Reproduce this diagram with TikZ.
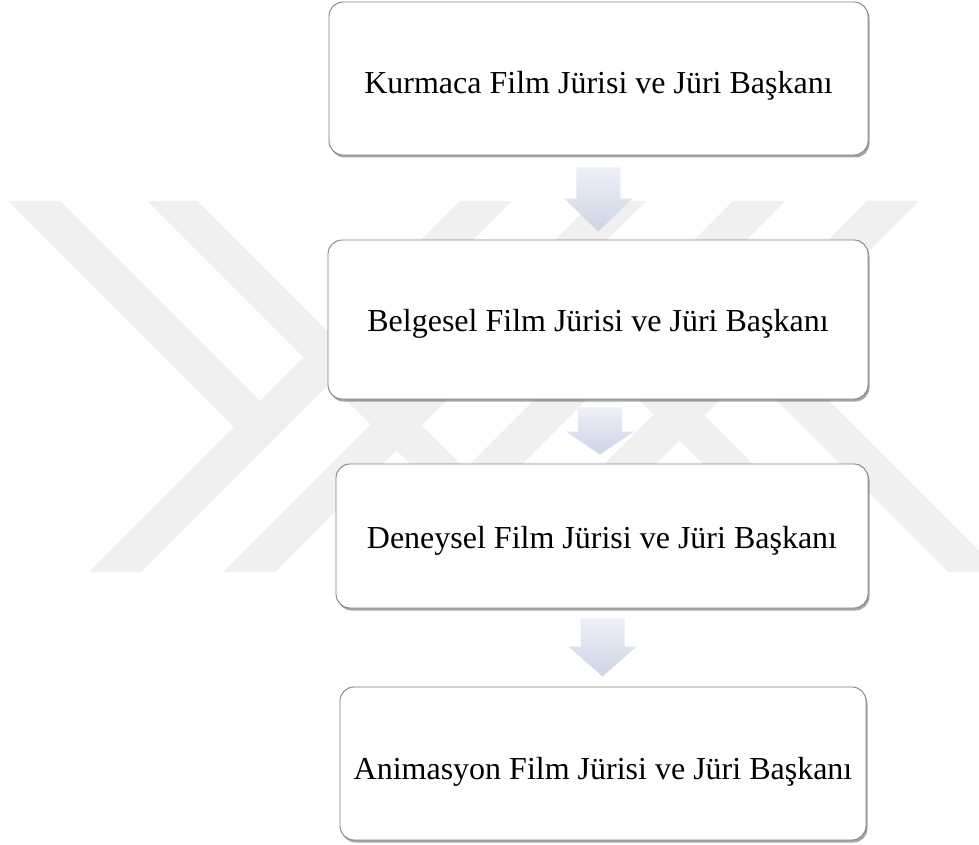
\documentclass[tikz,border=0pt]{standalone}
\usepackage{fontspec}
\setmainfont{Liberation Serif}
\usetikzlibrary{calc,shadows}
\definecolor{wm}{RGB}{240,240,240}
\definecolor{boxline}{RGB}{128,128,128}
\definecolor{arrtop}{RGB}{237,240,248}
\definecolor{arrbot}{RGB}{205,212,230}
\newcommand\blockarrow[5]{%
  \shade[arrowshade] let \p1=($(#1.south)!0.5!(#2.north)$), \p2=(#1.south), \p3=(#2.north) in
   (\x1-22pt,\y2-#3pt) -- (\x1+22pt,\y2-#3pt) -- (\x1+22pt,\y3+#4pt+#5pt) -- (\x1+34pt,\y3+#4pt+#5pt)
   -- (\x1,\y3+#4pt) -- (\x1-34pt,\y3+#4pt+#5pt) -- (\x1-22pt,\y3+#4pt+#5pt) -- cycle;}
\begin{document}
\begin{tikzpicture}[x=1pt,y=-1pt,
  box/.style={draw=boxline, line width=0.9pt, fill=white, rounded corners=14pt, inner sep=0pt,
     drop shadow={shadow xshift=1.5pt, shadow yshift=-2.5pt, fill=black, opacity=0.35},
     font=\fontsize{32}{38}\selectfont, text height=24pt, text depth=0pt},
  arrowshade/.style={top color=arrtop, bottom color=arrbot, draw=none}]
 \useasboundingbox (0,0) rectangle (979,845);
 \fill[white] (0,0) rectangle (979,845);
 \begin{scope}
 \clip (0,0) rectangle (979,845);
 % watermark
 \fill[wm] (460,201) -- (512,201) -- (141,572) -- (89,572) -- cycle;
 \fill[wm] (594,201) -- (646,201) -- (275,572) -- (223,572) -- cycle;
 \fill[wm] (733,201) -- (785,201) -- (414,572) -- (362,572) -- cycle;
 \fill[wm] (867,201) -- (919,201) -- (548,572) -- (496,572) -- cycle;
 \fill[wm] (8,201) -- (60,201) -- (286,427) -- (260,453) -- cycle;
 \fill[wm] (1000,572) -- (948,572) -- (722,346) -- (748,320) -- cycle;
 \fill[wm] (147,201) -- (197,201) -- (465,469) -- (440,494) -- cycle;
 \fill[wm] (861,572) -- (811,572) -- (543,304) -- (568,279) -- cycle;
 \end{scope}
 % boxes
 \node[box, minimum width=539pt, minimum height=153pt, text height=30pt] (b1) at (598.5,78.5) {Kurmaca Film Jürisi ve Jüri Başkanı};
 \node[box, minimum width=540pt, minimum height=159pt] (b2) at (598,319.5) {Belgesel Film Jürisi ve Jüri Başkanı};
 \node[box, minimum width=532pt, minimum height=144pt] (b3) at (602,536) {Deneysel Film Jürisi ve Jüri Başkanı};
 \node[box, minimum width=526pt, minimum height=153pt, text height=31pt] (b4) at (603,763.5) {Animasyon Film Jürisi ve Jüri Başkanı};
 % arrows
 \blockarrow{b1}{b2}{12}{8}{33}
 \blockarrow{b2}{b3}{8}{9}{23}
 \blockarrow{b3}{b4}{10}{10}{30}
\end{tikzpicture}
\end{document}
